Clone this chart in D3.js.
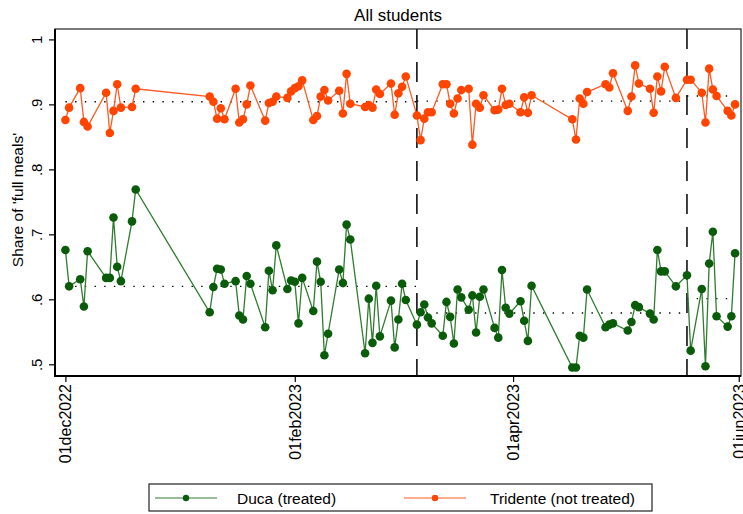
<!DOCTYPE html>
<html>
<head>
<meta charset="utf-8">
<script src="https://cdn.jsdelivr.net/npm/d3@7"></script>
<style>
body { margin: 0; background: #fff; }
text { font-family: "Liberation Sans", Arial, sans-serif; fill: #000; }
</style>
</head>
<body>
<div id="viz"></div>
<script>
// days with data (same days for both canteens)
var dates = [
  "2022-12-01","2022-12-02","2022-12-05","2022-12-06","2022-12-07","2022-12-12","2022-12-13","2022-12-14","2022-12-15","2022-12-16","2022-12-19","2022-12-20",
  "2023-01-09","2023-01-10","2023-01-11","2023-01-12","2023-01-13","2023-01-16","2023-01-17","2023-01-18","2023-01-19","2023-01-20","2023-01-24","2023-01-25","2023-01-26","2023-01-27","2023-01-30","2023-01-31",
  "2023-02-01","2023-02-02","2023-02-03","2023-02-06","2023-02-07","2023-02-08","2023-02-09","2023-02-10","2023-02-13","2023-02-14","2023-02-15","2023-02-16","2023-02-20","2023-02-21","2023-02-22","2023-02-23","2023-02-24","2023-02-27","2023-02-28",
  "2023-03-01","2023-03-02","2023-03-03","2023-03-06","2023-03-07","2023-03-08","2023-03-09","2023-03-10","2023-03-13","2023-03-14","2023-03-15","2023-03-16","2023-03-17","2023-03-18","2023-03-20","2023-03-21","2023-03-22","2023-03-23","2023-03-24","2023-03-27","2023-03-28","2023-03-29","2023-03-30","2023-03-31",
  "2023-04-03","2023-04-04","2023-04-05","2023-04-06","2023-04-17","2023-04-18","2023-04-19","2023-04-20","2023-04-21","2023-04-26","2023-04-27","2023-04-28",
  "2023-05-02","2023-05-03","2023-05-04","2023-05-05","2023-05-08","2023-05-09","2023-05-10","2023-05-11","2023-05-12","2023-05-15","2023-05-18","2023-05-19","2023-05-22","2023-05-23","2023-05-24","2023-05-25","2023-05-26","2023-05-29","2023-05-30","2023-05-31"
];

var duca = [
  0.676,0.620,0.631,0.589,0.674,0.633,0.633,0.726,0.650,0.628,0.720,0.769,
  0.580,0.619,0.647,0.646,0.624,0.628,0.575,0.569,0.636,0.624,0.557,0.644,0.614,0.683,0.616,0.629,
  0.627,0.563,0.633,0.582,0.658,0.627,0.514,0.547,0.646,0.625,0.715,0.692,0.517,0.601,0.533,0.621,0.543,0.598,0.526,
  0.569,0.624,0.599,0.561,0.580,0.592,0.572,0.563,0.544,0.596,0.573,0.532,0.615,0.603,0.584,0.606,0.549,0.604,0.615,0.556,0.541,0.645,0.587,0.578,
  0.597,0.567,0.536,0.621,0.495,0.495,0.544,0.541,0.615,0.557,0.561,0.563,
  0.552,0.565,0.591,0.588,0.578,0.569,0.676,0.643,0.643,0.620,0.637,0.521,0.616,0.497,0.655,0.704,0.574,0.558,0.574,0.671
];

var tridente = [
  0.876,0.895,0.925,0.873,0.866,0.918,0.856,0.890,0.931,0.895,0.896,0.924,
  0.912,0.904,0.878,0.894,0.877,0.924,0.872,0.877,0.900,0.929,0.875,0.902,0.904,0.912,0.910,0.920,
  0.925,0.928,0.937,0.876,0.882,0.912,0.922,0.906,0.921,0.886,0.947,0.901,0.896,0.899,0.895,0.923,0.916,0.932,0.884,
  0.917,0.927,0.943,0.883,0.845,0.878,0.888,0.888,0.931,0.931,0.901,0.886,0.909,0.922,0.924,0.838,0.901,0.895,0.914,0.891,0.892,0.924,0.899,0.901,
  0.888,0.911,0.887,0.914,0.877,0.846,0.909,0.901,0.919,0.931,0.926,0.948,
  0.890,0.912,0.960,0.932,0.924,0.887,0.943,0.920,0.958,0.910,0.938,0.938,0.918,0.872,0.955,0.923,0.913,0.890,0.883,0.900
];

// period boundaries and the period means (dotted lines)
var periodStart = ["2022-12-01","2023-03-06","2023-05-18"];
var periodEnd   = ["2023-03-06","2023-05-18","2023-05-31"];
var ducaMean     = [0.620, 0.579, 0.601];
var tridenteMean = [0.904, 0.905, 0.913];
var breaks = ["2023-03-06","2023-05-18"];

var xTicks = ["2022-12-01","2023-02-01","2023-04-01","2023-06-01"];
var yTicks = [0.5, 0.6, 0.7, 0.8, 0.9, 1];

var parse = d3.utcParse("%Y-%m-%d");
var fmt = d3.utcFormat("%d%b%Y");

var W = 743, H = 514;
var pL = 55, pR = 741, pT = 29, pB = 376;

var svg = d3.select('#viz').append('svg')
  .attr('width', W).attr('height', H);

var x = d3.scaleUtc()
  .domain([new Date(Date.UTC(2022,10,28,4,30)), new Date(Date.UTC(2023,5,1,14,30))])
  .range([pL, pR]);
var y = d3.scaleLinear().domain([0.482, 1.016]).range([pB, pT]);

// plot frame
svg.append('rect')
  .attr('x', pL).attr('y', pT)
  .attr('width', pR - pL).attr('height', pB - pT)
  .attr('fill', 'none').attr('stroke', '#222').attr('stroke-width', 1.2);

// period means
function meanLines(means, cls) {
  svg.selectAll('.' + cls)
    .data(means)
  .enter().append('line')
    .attr('class', cls)
    .attr('x1', function(d,i){ return x(parse(periodStart[i])); })
    .attr('x2', function(d,i){ return x(parse(periodEnd[i])); })
    .attr('y1', function(d){ return y(d); })
    .attr('y2', function(d){ return y(d); })
    .attr('stroke', '#000')
    .attr('stroke-width', 1.4)
    .attr('stroke-dasharray', '1.4,8.3');
}
meanLines(tridenteMean, 'mt');
meanLines(ducaMean, 'md');

// break lines
svg.selectAll('.brk')
  .data(breaks)
.enter().append('line')
  .attr('class', 'brk')
  .attr('x1', function(d){ return x(parse(d)); })
  .attr('x2', function(d){ return x(parse(d)); })
  .attr('y1', pT).attr('y2', pB)
  .attr('stroke', '#111')
  .attr('stroke-width', 1.6)
  .attr('stroke-dasharray', '20,13');

function series(values, lineCol, markCol, cls) {
  var pts = values.map(function(v,i){ return {date: parse(dates[i]), value: v}; });
  var line = d3.line()
    .x(function(d){ return x(d.date); })
    .y(function(d){ return y(d.value); });
  svg.append('path')
    .datum(pts)
    .attr('d', line)
    .attr('fill', 'none')
    .attr('stroke', lineCol)
    .attr('stroke-width', 1.3);
  svg.selectAll('.' + cls)
    .data(pts)
  .enter().append('circle')
    .attr('class', cls)
    .attr('cx', function(d){ return x(d.date); })
    .attr('cy', function(d){ return y(d.value); })
    .attr('r', 4.3)
    .attr('fill', markCol);
}
series(tridente, '#ff5a22', '#ff4500', 'pt');
series(duca, '#2e7d2e', '#0a5c0a', 'pd');

// axes
var yAxis = svg.append('g')
  .attr('transform', 'translate(' + pL + ',0)')
  .call(d3.axisLeft(y).tickValues(yTicks).tickSize(6)
    .tickFormat(function(d){ return d === 1 ? '1' : d3.format('.1f')(d).replace('0.', '.'); }));
yAxis.select('.domain').remove();
yAxis.selectAll('.tick line').attr('stroke', '#000').attr('stroke-width', 1.2);
yAxis.selectAll('.tick text')
  .attr('transform', 'rotate(-90)')
  .attr('x', 0).attr('y', -13).attr('dy', 0)
  .style('text-anchor', 'middle')
  .style('font-size', '15px')
  .style('font-family', '"Liberation Sans", Arial, sans-serif');

var xAxis = svg.append('g')
  .attr('transform', 'translate(0,' + pB + ')')
  .call(d3.axisBottom(x).tickValues(xTicks.map(parse)).tickSize(6)
    .tickFormat(function(d){ return fmt(d).toLowerCase(); }));
xAxis.select('.domain').remove();
xAxis.selectAll('.tick line').attr('stroke', '#000').attr('stroke-width', 1.2);
xAxis.selectAll('.tick text')
  .attr('transform', 'rotate(-90)')
  .attr('x', -8).attr('y', 5.5).attr('dy', 0)
  .style('text-anchor', 'end')
  .style('font-size', '16px')
  .style('font-family', '"Liberation Sans", Arial, sans-serif');

svg.append('line')
  .attr('x1', pL).attr('x2', pL).attr('y1', pT).attr('y2', pB + 1)
  .attr('stroke', '#000').attr('stroke-width', 2);
svg.append('line')
  .attr('x1', pL - 1).attr('x2', pR).attr('y1', pB).attr('y2', pB)
  .attr('stroke', '#000').attr('stroke-width', 2);

// titles
svg.append('text')
  .attr('x', (pL + pR) / 2).attr('y', 21)
  .style('text-anchor', 'middle').style('font-size', '17px')
  .text('All students');

svg.append('text')
  .attr('transform', 'translate(23,200) rotate(-90)')
  .style('text-anchor', 'middle').style('font-size', '15.5px')
  .text("Share of 'full meals'");

// legend
var legend = svg.append('g');
legend.append('rect')
  .attr('x', 149).attr('y', 484).attr('width', 503).attr('height', 27)
  .attr('fill', '#fff').attr('stroke', '#222').attr('stroke-width', 1.2);

var legendItems = [
  {label: 'Duca (treated)', line: '#2e7d2e', mark: '#0a5c0a', x0: 155, tx: 237},
  {label: 'Tridente (not treated)', line: '#ff5a22', mark: '#ff4500', x0: 404, tx: 490}
];
legendItems.forEach(function(d){
  legend.append('line')
    .attr('x1', d.x0).attr('x2', d.x0 + 62).attr('y1', 498).attr('y2', 498)
    .attr('stroke', d.line).attr('stroke-width', 1.2);
  legend.append('circle')
    .attr('cx', d.x0 + 31).attr('cy', 498).attr('r', 3.2)
    .attr('fill', d.mark);
  legend.append('text')
    .attr('x', d.tx).attr('y', 503.5)
    .style('font-size', '15.5px')
    .text(d.label);
});
</script>
</body>
</html>
